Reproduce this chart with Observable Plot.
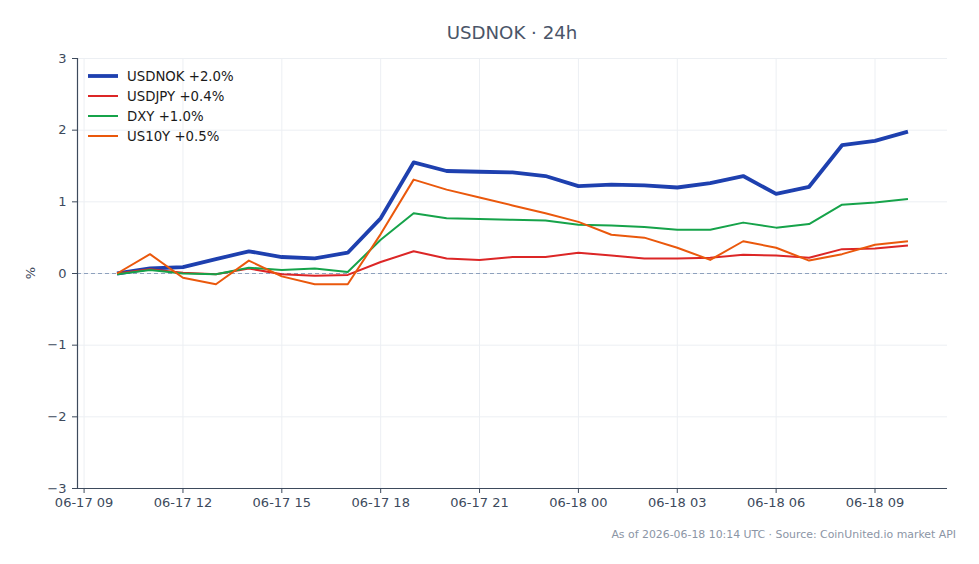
<!DOCTYPE html>
<html>
<head>
<meta charset="utf-8">
<script src="https://cdn.jsdelivr.net/npm/d3@7"></script>
<script src="https://cdn.jsdelivr.net/npm/@observablehq/plot@0.6"></script>
<style>
  html, body { margin: 0; padding: 0; background: #fff; }
  #wrap { position: relative; width: 979px; height: 564px; font-family: "DejaVu Sans", sans-serif; }
  #title { position: absolute; left: 0; width: 1024px; top: 22px; text-align: center; font-size: 18.2px; color: #4a5568; }
  #foot { position: absolute; right: 23px; top: 528px; font-size: 10.9px; color: #8b95a5; }
  #legend { position: absolute; left: 88px; top: 66px; font-size: 13.3px; color: #1a1a1a; }
  .row { display: flex; align-items: center; height: 20px; }
  .row svg { margin-right: 9px; }
  #chart { position: absolute; left: 0; top: 0; }
</style>
</head>
<body>
<div id="wrap">
  <div id="chart"></div>
  <div id="title"></div>
  <div id="legend"></div>
  <div id="foot"></div>
</div>
<script>
const titleText = "USDNOK · 24h";
const footText = "As of 2026-06-18 10:14 UTC · Source: CoinUnited.io market API";
const yLabel = "%";

const times = [
  "2026-06-17T10:00Z","2026-06-17T11:00Z","2026-06-17T12:00Z","2026-06-17T13:00Z","2026-06-17T14:00Z",
  "2026-06-17T15:00Z","2026-06-17T16:00Z","2026-06-17T17:00Z","2026-06-17T18:00Z","2026-06-17T19:00Z",
  "2026-06-17T20:00Z","2026-06-17T21:00Z","2026-06-17T22:00Z","2026-06-17T23:00Z","2026-06-18T00:00Z",
  "2026-06-18T01:00Z","2026-06-18T02:00Z","2026-06-18T03:00Z","2026-06-18T04:00Z","2026-06-18T05:00Z",
  "2026-06-18T06:00Z","2026-06-18T07:00Z","2026-06-18T08:00Z","2026-06-18T09:00Z","2026-06-18T10:00Z"
];

const seriesNames = ["USDNOK +2.0%", "USDJPY +0.4%", "DXY +1.0%", "US10Y +0.5%"];
const seriesColors = ["#1e40af", "#dc2626", "#16a34a", "#ea580c"];
const seriesWidths = [3.8, 2, 2, 2];

const usdnok = [0.00, 0.07, 0.09, 0.20, 0.31, 0.23, 0.21, 0.29, 0.77, 1.55, 1.43, 1.42, 1.41, 1.36, 1.22, 1.24, 1.23, 1.20, 1.26, 1.36, 1.11, 1.21, 1.79, 1.85, 1.98];
const usdjpy = [0.00, 0.06, 0.01, -0.01, 0.07, -0.01, -0.03, -0.02, 0.16, 0.31, 0.21, 0.19, 0.23, 0.23, 0.29, 0.25, 0.21, 0.21, 0.22, 0.26, 0.25, 0.22, 0.34, 0.35, 0.39];
const dxy    = [-0.01, 0.05, 0.00, -0.01, 0.08, 0.05, 0.07, 0.02, 0.47, 0.84, 0.77, 0.76, 0.75, 0.74, 0.68, 0.67, 0.65, 0.61, 0.61, 0.71, 0.64, 0.69, 0.96, 0.99, 1.04];
const us10y  = [0.00, 0.27, -0.06, -0.15, 0.18, -0.04, -0.15, -0.15, 0.55, 1.31, 1.17, 1.06, 0.95, 0.84, 0.72, 0.54, 0.50, 0.36, 0.19, 0.45, 0.36, 0.18, 0.27, 0.40, 0.45];

const yTicks = [-3, -2, -1, 0, 1, 2, 3];
const xTicks = [
  "2026-06-17T09:00Z","2026-06-17T12:00Z","2026-06-17T15:00Z","2026-06-17T18:00Z","2026-06-17T21:00Z",
  "2026-06-18T00:00Z","2026-06-18T03:00Z","2026-06-18T06:00Z","2026-06-18T09:00Z"
].map(d => new Date(d));

const allSeries = [usdnok, usdjpy, dxy, us10y];
const data = [];
allSeries.forEach((vals, si) => {
  vals.forEach((v, i) => data.push({ t: new Date(times[i]), v, s: seriesNames[si] }));
});

// 5% padding on time axis
const t0 = new Date(times[0]), t1 = new Date(times[times.length - 1]);
const pad = (t1 - t0) * 0.05;
const xDomain = [new Date(+t0 - pad), new Date(+t1 + pad)];
const yDomain = [yTicks[0], yTicks[yTicks.length - 1]];

const fmt = d3.utcFormat("%m-%d %H");
const axisColor = "#3d4a5c";

const plot = Plot.plot({
  width: 979,
  height: 564,
  marginTop: 58,
  marginBottom: 76,
  marginLeft: 77,
  marginRight: 32,
  style: { fontFamily: "DejaVu Sans, sans-serif", fontSize: "13px", color: axisColor, background: "transparent" },
  x: { type: "utc", domain: xDomain },
  y: { domain: yDomain },
  color: { domain: seriesNames, range: seriesColors },
  marks: [
    Plot.gridX(xTicks, { stroke: "#eceff3", strokeOpacity: 1 }),
    Plot.gridY(yTicks, { stroke: "#eceff3", strokeOpacity: 1 }),
    Plot.ruleY([0], { stroke: "#8ea1bd", strokeWidth: 1.1, strokeDasharray: "4,3" }),
    ...seriesNames.map((name, si) =>
      Plot.line(data.filter(d => d.s === name), {
        x: "t", y: "v", stroke: seriesColors[si], strokeWidth: seriesWidths[si],
        strokeLinejoin: "round", strokeLinecap: "butt"
      })
    ),
    Plot.ruleX([xDomain[0]], { stroke: axisColor, strokeWidth: 1.2 }),
    Plot.ruleY([yDomain[0]], { stroke: axisColor, strokeWidth: 1.2 }),
    Plot.axisX(xTicks, { tickFormat: fmt, tickSize: 5, tickPadding: 4, stroke: axisColor, fill: axisColor, label: null, fontSize: 13 }),
    Plot.axisY(yTicks, { tickFormat: d => d < 0 ? "\u2212" + Math.abs(d) : String(d), tickSize: 5, tickPadding: 6, stroke: axisColor, fill: axisColor, label: null, fontSize: 13 })
  ]
});
document.getElementById("chart").appendChild(plot);

// y label
const ns = "http://www.w3.org/2000/svg";
const yl = document.createElementNS(ns, "text");
yl.setAttribute("transform", "translate(35,273) rotate(-90)");
yl.setAttribute("text-anchor", "middle");
yl.setAttribute("font-size", "13");
yl.setAttribute("fill", axisColor);
yl.textContent = yLabel;
plot.appendChild(yl);

document.getElementById("title").textContent = titleText;
document.getElementById("foot").textContent = footText;

const legend = document.getElementById("legend");
seriesNames.forEach((name, i) => {
  const row = document.createElement("div");
  row.className = "row";
  row.innerHTML = `<svg width="30" height="6"><line x1="0" x2="30" y1="3" y2="3" stroke="${seriesColors[i]}" stroke-width="${seriesWidths[i]}"/></svg><span>${name}</span>`;
  legend.appendChild(row);
});
</script>
</body>
</html>
